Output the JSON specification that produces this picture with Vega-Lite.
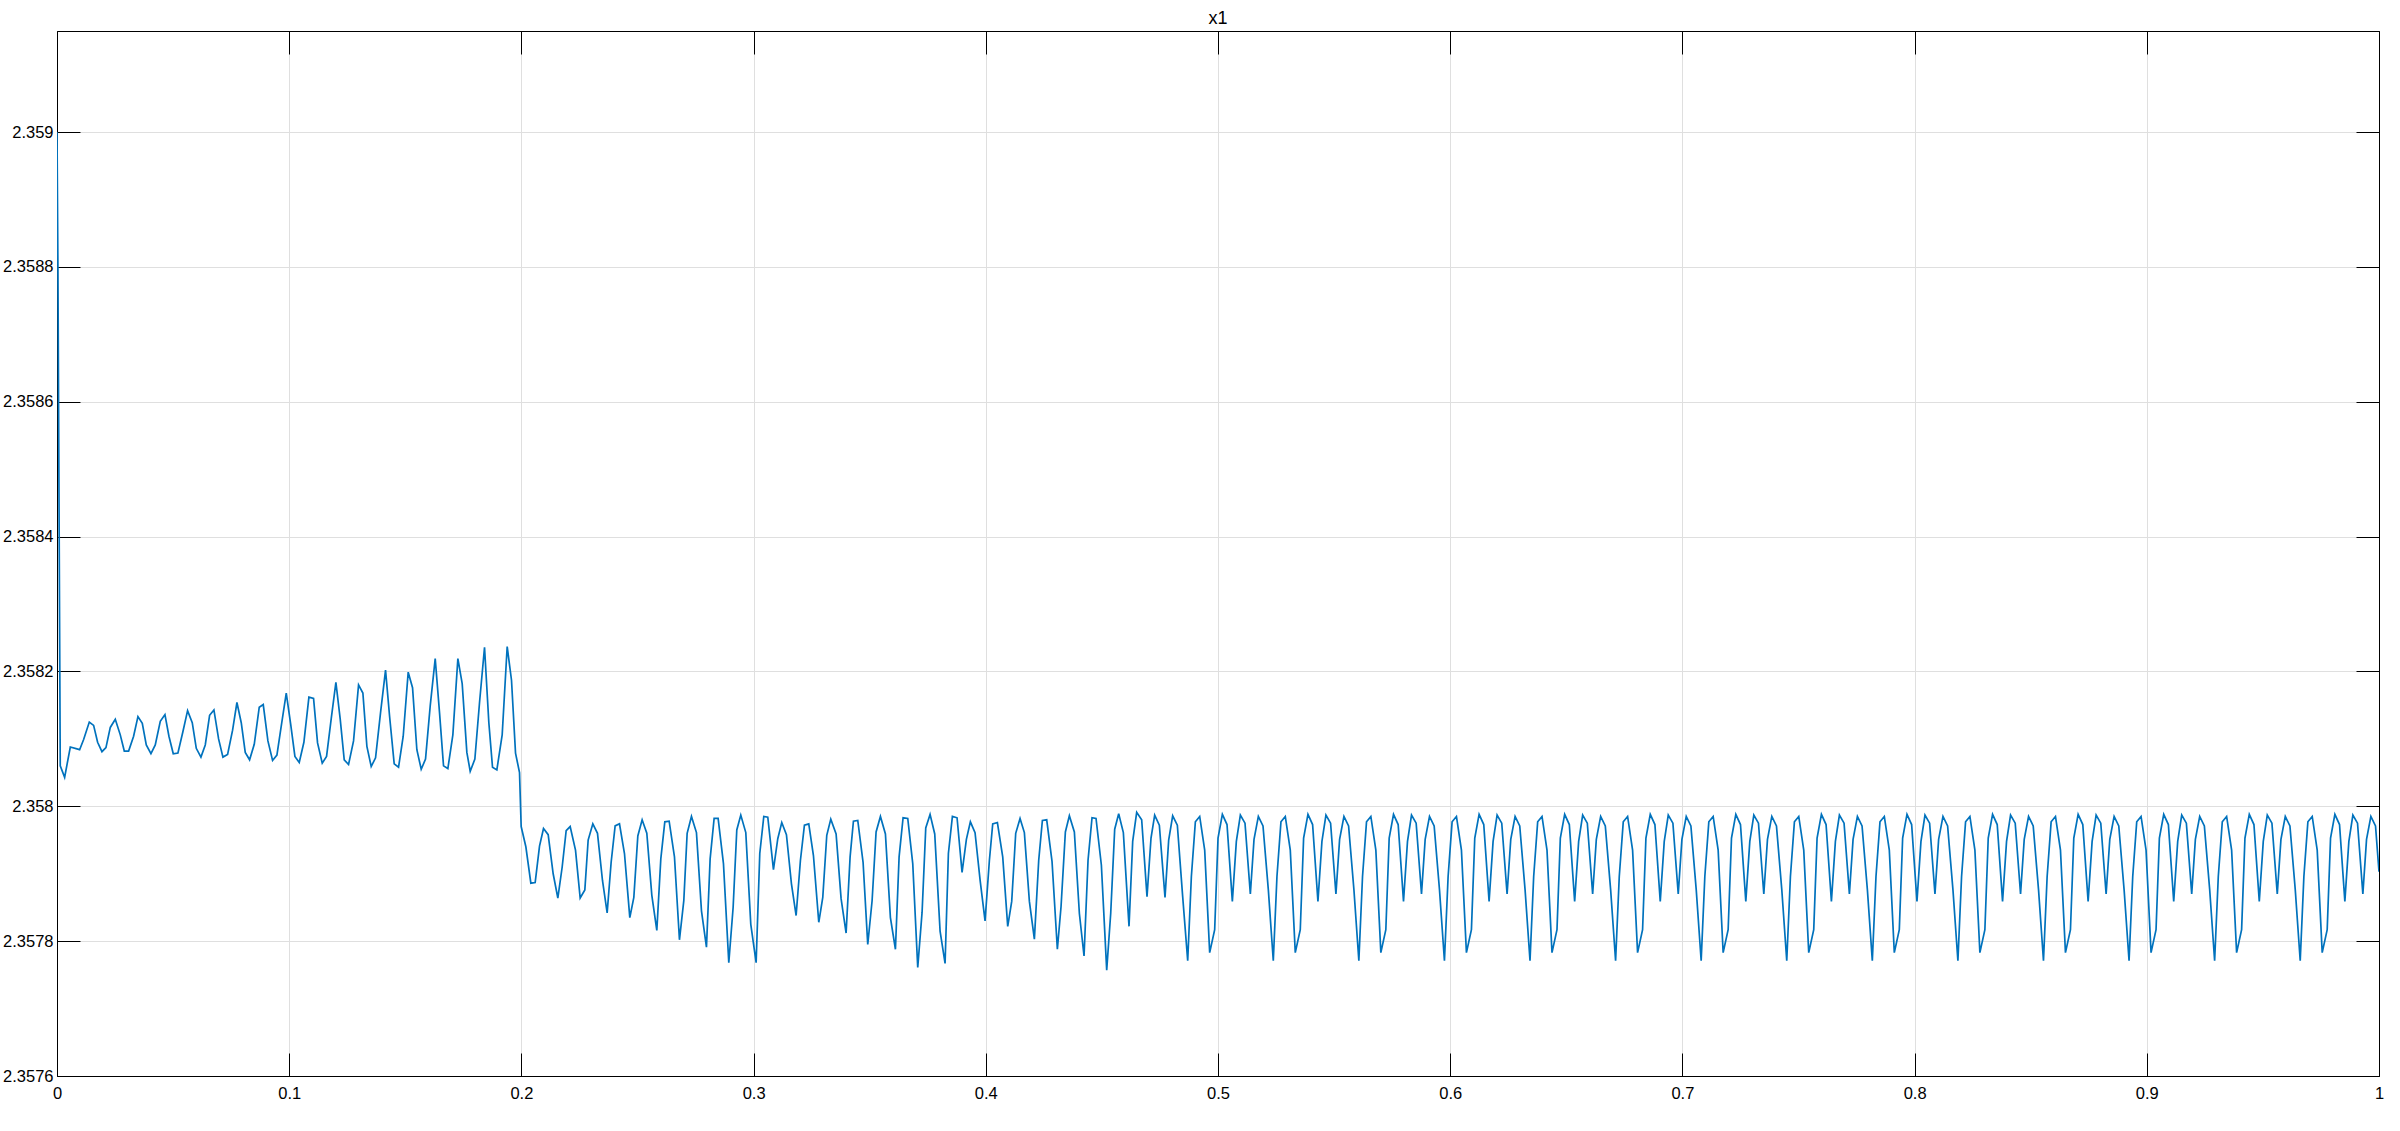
{
"$schema":"https://vega.github.io/schema/vega-lite/v6.json",
"width":2322,"height":1045,
"autosize":{"type":"none"},
"padding":{"left":57,"top":31,"right":21,"bottom":55},
"background":"white",
"title":{"text":"x1","fontSize":18,"font":"Liberation Sans","fontWeight":"normal","color":"black","offset":-11,"frame":"group","anchor":"middle","baseline":"alphabetic"},
"config":{"view":{"stroke":"black","strokeWidth":1}},
"data":{"values":[
{"t":0,"v":2.359},{"t":0.0004,"v":2.3588},{"t":0.0014,"v":2.35806},
{"t":0.00329,"v":2.358043},{"t":0.00573,"v":2.358088},{"t":0.00974,"v":2.358084},{"t":0.01147,"v":2.358099},{"t":0.01391,"v":2.358125},{"t":0.01577,"v":2.35812},{"t":0.01749,"v":2.358095},{"t":0.01936,"v":2.358081},{"t":0.02108,"v":2.358087},{"t":0.02295,"v":2.358117},{"t":0.0251,"v":2.358129},{"t":0.02725,"v":2.358106},{"t":0.02898,"v":2.358082},{"t":0.03084,"v":2.358082},{"t":0.03299,"v":2.358104},{"t":0.03486,"v":2.358133},{"t":0.03673,"v":2.358123},{"t":0.03845,"v":2.358091},{"t":0.04046,"v":2.358078},{"t":0.04232,"v":2.358091},{"t":0.04448,"v":2.358126},{"t":0.04649,"v":2.358136},{"t":0.04821,"v":2.358104},{"t":0.05007,"v":2.358078},{"t":0.05208,"v":2.358079},{"t":0.05424,"v":2.358111},{"t":0.05624,"v":2.358142},{"t":0.05825,"v":2.358124},{"t":0.05998,"v":2.358086},{"t":0.06199,"v":2.358073},{"t":0.06385,"v":2.358091},{"t":0.06572,"v":2.358135},{"t":0.06758,"v":2.358143},{"t":0.06959,"v":2.3581},{"t":0.07146,"v":2.358073},{"t":0.07347,"v":2.358077},{"t":0.07562,"v":2.358113},{"t":0.07749,"v":2.358154},{"t":0.07935,"v":2.358124},{"t":0.08107,"v":2.35808},{"t":0.08294,"v":2.358069},{"t":0.08495,"v":2.358092},{"t":0.0871,"v":2.358147},{"t":0.08882,"v":2.358151},{"t":0.09083,"v":2.358097},{"t":0.09284,"v":2.358068},{"t":0.09471,"v":2.358076},{"t":0.09657,"v":2.358119},{"t":0.09873,"v":2.358168},{"t":0.10059,"v":2.358123},{"t":0.10246,"v":2.358074},{"t":0.10432,"v":2.358065},{"t":0.10633,"v":2.358095},{"t":0.10849,"v":2.358162},{"t":0.11049,"v":2.35816},{"t":0.11221,"v":2.358094},{"t":0.11423,"v":2.358064},{"t":0.11609,"v":2.358074},{"t":0.1181,"v":2.35813},{"t":0.12011,"v":2.358184},{"t":0.12198,"v":2.358129},{"t":0.1237,"v":2.358069},{"t":0.12556,"v":2.358062},{"t":0.12771,"v":2.358097},{"t":0.12987,"v":2.35818},{"t":0.13173,"v":2.358168},{"t":0.13346,"v":2.358089},{"t":0.13532,"v":2.358059},{"t":0.13719,"v":2.358072},{"t":0.13934,"v":2.358139},{"t":0.14149,"v":2.358202},{"t":0.14322,"v":2.358134},{"t":0.14522,"v":2.358063},{"t":0.14709,"v":2.358058},{"t":0.1491,"v":2.358104},{"t":0.15125,"v":2.358199},{"t":0.15312,"v":2.358176},{"t":0.15498,"v":2.358084},{"t":0.15685,"v":2.358055},{"t":0.15871,"v":2.35807},{"t":0.16073,"v":2.358149},{"t":0.16288,"v":2.358219},{"t":0.16474,"v":2.358139},{"t":0.16646,"v":2.35806},{"t":0.16833,"v":2.358056},{"t":0.17048,"v":2.358106},{"t":0.17264,"v":2.358219},{"t":0.1745,"v":2.358182},{"t":0.17651,"v":2.35808},{"t":0.17795,"v":2.358052},{"t":0.17996,"v":2.35807},{"t":0.18197,"v":2.358154},{"t":0.18412,"v":2.358236},{"t":0.18598,"v":2.358124},{"t":0.18756,"v":2.358058},{"t":0.18943,"v":2.358054},{"t":0.19172,"v":2.358106},{"t":0.19388,"v":2.358237},{"t":0.19574,"v":2.358187},{"t":0.19747,"v":2.358079},{"t":0.19919,"v":2.35805},
{"t":0.1999,"v":2.35797},{"t":0.20192,"v":2.35794},{"t":0.20407,"v":2.357886},{"t":0.20593,"v":2.357887},{"t":0.2078,"v":2.357941},{"t":0.20952,"v":2.357967},{"t":0.21153,"v":2.357958},{"t":0.21368,"v":2.3579},{"t":0.21569,"v":2.357864},{"t":0.21756,"v":2.35791},{"t":0.21928,"v":2.357964},{"t":0.221,"v":2.35797},{"t":0.2233,"v":2.357935},{"t":0.22531,"v":2.357864},{"t":0.22732,"v":2.357876},{"t":0.22875,"v":2.35795},{"t":0.23076,"v":2.357974},{"t":0.23277,"v":2.35796},{"t":0.23492,"v":2.35789},{"t":0.23693,"v":2.357842},{"t":0.23865,"v":2.357917},{"t":0.24037,"v":2.357971},{"t":0.24224,"v":2.357974},{"t":0.24439,"v":2.35793},{"t":0.24669,"v":2.357835},{"t":0.24842,"v":2.357865},{"t":0.25014,"v":2.357956},{"t":0.252,"v":2.35798},{"t":0.25401,"v":2.35796},{"t":0.25617,"v":2.357868},{"t":0.25832,"v":2.357816},{"t":0.26004,"v":2.357922},{"t":0.26176,"v":2.357977},{"t":0.26363,"v":2.357978},{"t":0.26592,"v":2.357925},{"t":0.26807,"v":2.357802},{"t":0.26994,"v":2.35786},{"t":0.27138,"v":2.35796},{"t":0.27324,"v":2.357985},{"t":0.27539,"v":2.357961},{"t":0.27755,"v":2.357845},{"t":0.2797,"v":2.357791},{"t":0.28128,"v":2.357922},{"t":0.283,"v":2.357982},{"t":0.28472,"v":2.357982},{"t":0.28702,"v":2.357915},{"t":0.28932,"v":2.357768},{"t":0.29118,"v":2.35785},{"t":0.29276,"v":2.357965},{"t":0.29448,"v":2.357987},{"t":0.29664,"v":2.357961},{"t":0.29879,"v":2.357825},{"t":0.30109,"v":2.357768},{"t":0.30266,"v":2.35793},{"t":0.30439,"v":2.357985},{"t":0.30611,"v":2.357984},{"t":0.30855,"v":2.357906},{"t":0.31041,"v":2.357952},{"t":0.31213,"v":2.357976},{"t":0.31414,"v":2.357958},{"t":0.3163,"v":2.357885},{"t":0.31831,"v":2.357838},{"t":0.32017,"v":2.35792},{"t":0.32189,"v":2.357972},{"t":0.32376,"v":2.357974},{"t":0.32577,"v":2.357927},{"t":0.32807,"v":2.357828},{"t":0.32979,"v":2.357865},{"t":0.33151,"v":2.357957},{"t":0.33324,"v":2.357981},{"t":0.33553,"v":2.357959},{"t":0.33768,"v":2.357863},{"t":0.33984,"v":2.357812},{"t":0.34156,"v":2.357925},{"t":0.34299,"v":2.357978},{"t":0.34486,"v":2.357979},{"t":0.34715,"v":2.357917},{"t":0.34916,"v":2.357795},{"t":0.35103,"v":2.35786},{"t":0.35275,"v":2.357962},{"t":0.35462,"v":2.357985},{"t":0.35677,"v":2.357959},{"t":0.35892,"v":2.357835},{"t":0.36108,"v":2.357788},{"t":0.36266,"v":2.357925},{"t":0.36438,"v":2.357983},{"t":0.36639,"v":2.357982},{"t":0.36854,"v":2.357915},{"t":0.37069,"v":2.357761},{"t":0.37256,"v":2.357843},{"t":0.37414,"v":2.357968},{"t":0.376,"v":2.357988},{"t":0.37801,"v":2.357959},{"t":0.38031,"v":2.357815},{"t":0.38246,"v":2.357767},{"t":0.38389,"v":2.35793},{"t":0.38562,"v":2.357985},{"t":0.38762,"v":2.357983},{"t":0.38978,"v":2.357902},{"t":0.39164,"v":2.357951},{"t":0.39336,"v":2.357977},{"t":0.39537,"v":2.357961},
{"t":0.39753,"v":2.357891},{"t":0.39968,"v":2.35783},{"t":0.40155,"v":2.35792},{"t":0.40298,"v":2.357974},{"t":0.40499,"v":2.357976},{"t":0.40729,"v":2.357925},{"t":0.40944,"v":2.357822},{"t":0.41116,"v":2.357859},{"t":0.41288,"v":2.35796},{"t":0.41475,"v":2.357982},{"t":0.41661,"v":2.357961},{"t":0.41877,"v":2.357859},{"t":0.42092,"v":2.357803},{"t":0.42279,"v":2.35792},{"t":0.42437,"v":2.357979},{"t":0.42623,"v":2.35798},{"t":0.42853,"v":2.357918},{"t":0.43082,"v":2.357788},{"t":0.4324,"v":2.357851},{"t":0.43427,"v":2.357962},{"t":0.43599,"v":2.357986},{"t":0.43814,"v":2.357962},{"t":0.4403,"v":2.357841},{"t":0.44231,"v":2.357778},{"t":0.44403,"v":2.35792},{"t":0.44575,"v":2.357983},{"t":0.44747,"v":2.357982},{"t":0.44977,"v":2.357913},{"t":0.45207,"v":2.357757},{"t":0.45379,"v":2.357841},{"t":0.45551,"v":2.357966},{"t":0.45723,"v":2.357989},{"t":0.45924,"v":2.357961},{"t":0.46168,"v":2.357822},{"t":0.46326,"v":2.357948},{"t":0.46498,"v":2.357991},{"t":0.46713,"v":2.35798},{"t":0.46943,"v":2.357866},{"t":0.47115,"v":2.357953},{"t":0.47273,"v":2.357987},{"t":0.47474,"v":2.357972},{"t":0.47718,"v":2.357865},{"t":0.47876,"v":2.35795},{"t":0.48048,"v":2.357986},{"t":0.48249,"v":2.357972},{"t":0.48479,"v":2.357866},
{"t":0.48695,"v":2.357771},{"t":0.48853,"v":2.357896},{"t":0.49025,"v":2.357977},{"t":0.49212,"v":2.357985},{"t":0.49427,"v":2.357935},{"t":0.49642,"v":2.357783},{"t":0.49857,"v":2.357817},{"t":0.50001,"v":2.357953},{"t":0.50188,"v":2.357988},{"t":0.50388,"v":2.357973},{"t":0.50618,"v":2.357859},{"t":0.5079,"v":2.357948},{"t":0.50963,"v":2.357987},{"t":0.51163,"v":2.357975},{"t":0.51393,"v":2.35787},{"t":0.51551,"v":2.357951},{"t":0.51738,"v":2.357985},{"t":0.51938,"v":2.357971},{"t":0.52168,"v":2.357876},
{"t":0.52381,"v":2.357771},{"t":0.52539,"v":2.357896},{"t":0.52711,"v":2.357977},{"t":0.52898,"v":2.357985},{"t":0.53113,"v":2.357935},{"t":0.53328,"v":2.357783},{"t":0.53543,"v":2.357817},{"t":0.53687,"v":2.357953},{"t":0.53874,"v":2.357988},{"t":0.54074,"v":2.357973},{"t":0.54304,"v":2.357859},{"t":0.54476,"v":2.357948},{"t":0.54649,"v":2.357987},{"t":0.54849,"v":2.357975},{"t":0.55079,"v":2.35787},{"t":0.55237,"v":2.357951},{"t":0.55424,"v":2.357985},{"t":0.55624,"v":2.357971},{"t":0.55854,"v":2.357876},
{"t":0.56066,"v":2.357771},{"t":0.56224,"v":2.357896},{"t":0.56396,"v":2.357977},{"t":0.56583,"v":2.357985},{"t":0.56798,"v":2.357935},{"t":0.57013,"v":2.357783},{"t":0.57228,"v":2.357817},{"t":0.57372,"v":2.357953},{"t":0.57559,"v":2.357988},{"t":0.57759,"v":2.357973},{"t":0.57989,"v":2.357859},{"t":0.58161,"v":2.357948},{"t":0.58334,"v":2.357987},{"t":0.58534,"v":2.357975},{"t":0.58764,"v":2.35787},{"t":0.58922,"v":2.357951},{"t":0.59109,"v":2.357985},{"t":0.59309,"v":2.357971},{"t":0.59539,"v":2.357876},
{"t":0.59752,"v":2.357771},{"t":0.5991,"v":2.357896},{"t":0.60082,"v":2.357977},{"t":0.60269,"v":2.357985},{"t":0.60484,"v":2.357935},{"t":0.60699,"v":2.357783},{"t":0.60914,"v":2.357817},{"t":0.61058,"v":2.357953},{"t":0.61245,"v":2.357988},{"t":0.61445,"v":2.357973},{"t":0.61675,"v":2.357859},{"t":0.61847,"v":2.357948},{"t":0.6202,"v":2.357987},{"t":0.6222,"v":2.357975},{"t":0.6245,"v":2.35787},{"t":0.62608,"v":2.357951},{"t":0.62795,"v":2.357985},{"t":0.62995,"v":2.357971},{"t":0.63225,"v":2.357876},
{"t":0.63437,"v":2.357771},{"t":0.63595,"v":2.357896},{"t":0.63767,"v":2.357977},{"t":0.63954,"v":2.357985},{"t":0.64169,"v":2.357935},{"t":0.64384,"v":2.357783},{"t":0.64599,"v":2.357817},{"t":0.64743,"v":2.357953},{"t":0.6493,"v":2.357988},{"t":0.6513,"v":2.357973},{"t":0.6536,"v":2.357859},{"t":0.65532,"v":2.357948},{"t":0.65705,"v":2.357987},{"t":0.65905,"v":2.357975},{"t":0.66135,"v":2.35787},{"t":0.66293,"v":2.357951},{"t":0.6648,"v":2.357985},{"t":0.6668,"v":2.357971},{"t":0.6691,"v":2.357876},
{"t":0.67123,"v":2.357771},{"t":0.67281,"v":2.357896},{"t":0.67453,"v":2.357977},{"t":0.6764,"v":2.357985},{"t":0.67855,"v":2.357935},{"t":0.6807,"v":2.357783},{"t":0.68285,"v":2.357817},{"t":0.68429,"v":2.357953},{"t":0.68616,"v":2.357988},{"t":0.68816,"v":2.357973},{"t":0.69046,"v":2.357859},{"t":0.69218,"v":2.357948},{"t":0.69391,"v":2.357987},{"t":0.69591,"v":2.357975},{"t":0.69821,"v":2.35787},{"t":0.69979,"v":2.357951},{"t":0.70166,"v":2.357985},{"t":0.70366,"v":2.357971},{"t":0.70596,"v":2.357876},
{"t":0.70808,"v":2.357771},{"t":0.70966,"v":2.357896},{"t":0.71138,"v":2.357977},{"t":0.71325,"v":2.357985},{"t":0.7154,"v":2.357935},{"t":0.71755,"v":2.357783},{"t":0.7197,"v":2.357817},{"t":0.72114,"v":2.357953},{"t":0.72301,"v":2.357988},{"t":0.72501,"v":2.357973},{"t":0.72731,"v":2.357859},{"t":0.72903,"v":2.357948},{"t":0.73076,"v":2.357987},{"t":0.73276,"v":2.357975},{"t":0.73506,"v":2.35787},{"t":0.73664,"v":2.357951},{"t":0.73851,"v":2.357985},{"t":0.74051,"v":2.357971},{"t":0.74281,"v":2.357876},
{"t":0.74494,"v":2.357771},{"t":0.74652,"v":2.357896},{"t":0.74824,"v":2.357977},{"t":0.75011,"v":2.357985},{"t":0.75226,"v":2.357935},{"t":0.75441,"v":2.357783},{"t":0.75656,"v":2.357817},{"t":0.758,"v":2.357953},{"t":0.75987,"v":2.357988},{"t":0.76187,"v":2.357973},{"t":0.76417,"v":2.357859},{"t":0.76589,"v":2.357948},{"t":0.76762,"v":2.357987},{"t":0.76962,"v":2.357975},{"t":0.77192,"v":2.35787},{"t":0.7735,"v":2.357951},{"t":0.77537,"v":2.357985},{"t":0.77737,"v":2.357971},{"t":0.77967,"v":2.357876},
{"t":0.78179,"v":2.357771},{"t":0.78337,"v":2.357896},{"t":0.78509,"v":2.357977},{"t":0.78696,"v":2.357985},{"t":0.78911,"v":2.357935},{"t":0.79126,"v":2.357783},{"t":0.79341,"v":2.357817},{"t":0.79485,"v":2.357953},{"t":0.79672,"v":2.357988},{"t":0.79872,"v":2.357973},{"t":0.80102,"v":2.357859},{"t":0.80274,"v":2.357948},{"t":0.80447,"v":2.357987},{"t":0.80647,"v":2.357975},{"t":0.80877,"v":2.35787},{"t":0.81035,"v":2.357951},{"t":0.81222,"v":2.357985},{"t":0.81422,"v":2.357971},{"t":0.81652,"v":2.357876},
{"t":0.81865,"v":2.357771},{"t":0.82023,"v":2.357896},{"t":0.82195,"v":2.357977},{"t":0.82382,"v":2.357985},{"t":0.82597,"v":2.357935},{"t":0.82812,"v":2.357783},{"t":0.83027,"v":2.357817},{"t":0.83171,"v":2.357953},{"t":0.83358,"v":2.357988},{"t":0.83558,"v":2.357973},{"t":0.83788,"v":2.357859},{"t":0.8396,"v":2.357948},{"t":0.84133,"v":2.357987},{"t":0.84333,"v":2.357975},{"t":0.84563,"v":2.35787},{"t":0.84721,"v":2.357951},{"t":0.84908,"v":2.357985},{"t":0.85108,"v":2.357971},{"t":0.85338,"v":2.357876},
{"t":0.8555,"v":2.357771},{"t":0.85708,"v":2.357896},{"t":0.8588,"v":2.357977},{"t":0.86067,"v":2.357985},{"t":0.86282,"v":2.357935},{"t":0.86497,"v":2.357783},{"t":0.86712,"v":2.357817},{"t":0.86856,"v":2.357953},{"t":0.87043,"v":2.357988},{"t":0.87243,"v":2.357973},{"t":0.87473,"v":2.357859},{"t":0.87645,"v":2.357948},{"t":0.87818,"v":2.357987},{"t":0.88018,"v":2.357975},{"t":0.88248,"v":2.35787},{"t":0.88406,"v":2.357951},{"t":0.88593,"v":2.357985},{"t":0.88793,"v":2.357971},{"t":0.89023,"v":2.357876},
{"t":0.89236,"v":2.357771},{"t":0.89394,"v":2.357896},{"t":0.89566,"v":2.357977},{"t":0.89753,"v":2.357985},{"t":0.89968,"v":2.357935},{"t":0.90183,"v":2.357783},{"t":0.90398,"v":2.357817},{"t":0.90542,"v":2.357953},{"t":0.90729,"v":2.357988},{"t":0.90929,"v":2.357973},{"t":0.91159,"v":2.357859},{"t":0.91331,"v":2.357948},{"t":0.91504,"v":2.357987},{"t":0.91704,"v":2.357975},{"t":0.91934,"v":2.35787},{"t":0.92092,"v":2.357951},{"t":0.92279,"v":2.357985},{"t":0.92479,"v":2.357971},{"t":0.92709,"v":2.357876},
{"t":0.92921,"v":2.357771},{"t":0.93079,"v":2.357896},{"t":0.93251,"v":2.357977},{"t":0.93438,"v":2.357985},{"t":0.93653,"v":2.357935},{"t":0.93868,"v":2.357783},{"t":0.94083,"v":2.357817},{"t":0.94227,"v":2.357953},{"t":0.94414,"v":2.357988},{"t":0.94614,"v":2.357973},{"t":0.94844,"v":2.357859},{"t":0.95016,"v":2.357948},{"t":0.95189,"v":2.357987},{"t":0.95389,"v":2.357975},{"t":0.95619,"v":2.35787},{"t":0.95777,"v":2.357951},{"t":0.95964,"v":2.357985},{"t":0.96164,"v":2.357971},{"t":0.96394,"v":2.357876},
{"t":0.96607,"v":2.357771},{"t":0.96765,"v":2.357896},{"t":0.96937,"v":2.357977},{"t":0.97124,"v":2.357985},{"t":0.97339,"v":2.357935},{"t":0.97554,"v":2.357783},{"t":0.97769,"v":2.357817},{"t":0.97913,"v":2.357953},{"t":0.981,"v":2.357988},{"t":0.983,"v":2.357973},{"t":0.9853,"v":2.357859},{"t":0.98702,"v":2.357948},{"t":0.98875,"v":2.357987},{"t":0.99075,"v":2.357975},{"t":0.99305,"v":2.35787},{"t":0.99463,"v":2.357951},{"t":0.9965,"v":2.357985},{"t":0.9985,"v":2.357971},{"t":1,"v":2.357903}
]},
"layer":[
{"mark":{"type":"line","color":"#0072BD","strokeWidth":1.7,"clip":true},
"encoding":{
"x":{"field":"t","type":"quantitative","scale":{"domain":[0,1],"nice":false,"zero":false},
"axis":{"orient":"bottom","values":[0,0.1,0.2,0.3,0.4,0.5,0.6,0.7,0.8,0.9,1],"format":"~g","title":null,"labelFont":"Liberation Sans","labelFontSize":16.5,"labelColor":"black","labelPadding":32,"labelFlush":false,"labelOverlap":false,"tickSize":-23,"tickColor":"black","tickWidth":1,"domainColor":"black","domainWidth":1,"grid":true,"gridColor":"#dfdfdf","gridWidth":1}},
"y":{"field":"v","type":"quantitative","scale":{"domain":[2.3576,2.35915],"nice":false,"zero":false},
"axis":{"orient":"left","values":[2.3576,2.3578,2.358,2.3582,2.3584,2.3586,2.3588,2.359],"format":"~g","title":null,"labelFont":"Liberation Sans","labelFontSize":16.5,"labelColor":"black","labelPadding":27,"labelFlush":false,"labelOverlap":false,"tickSize":-23,"tickColor":"black","tickWidth":1,"domainColor":"black","domainWidth":1,"grid":true,"gridColor":"#dfdfdf","gridWidth":1}}
}},
{"mark":{"type":"line","opacity":0},
"encoding":{
"x":{"field":"t","type":"quantitative","scale":{"domain":[0,1],"nice":false,"zero":false},
"axis":{"orient":"top","values":[0,0.1,0.2,0.3,0.4,0.5,0.6,0.7,0.8,0.9,1],"title":null,"labels":false,"grid":false,"tickSize":-23,"tickColor":"black","tickWidth":1,"domainColor":"black","domainWidth":1}},
"y":{"field":"v","type":"quantitative","scale":{"domain":[2.3576,2.35915],"nice":false,"zero":false},
"axis":{"orient":"right","values":[2.3576,2.3578,2.358,2.3582,2.3584,2.3586,2.3588,2.359],"title":null,"labels":false,"grid":false,"tickSize":-23,"tickColor":"black","tickWidth":1,"domainColor":"black","domainWidth":1}}
}}
],
"resolve":{"axis":{"x":"independent","y":"independent"}}
}
